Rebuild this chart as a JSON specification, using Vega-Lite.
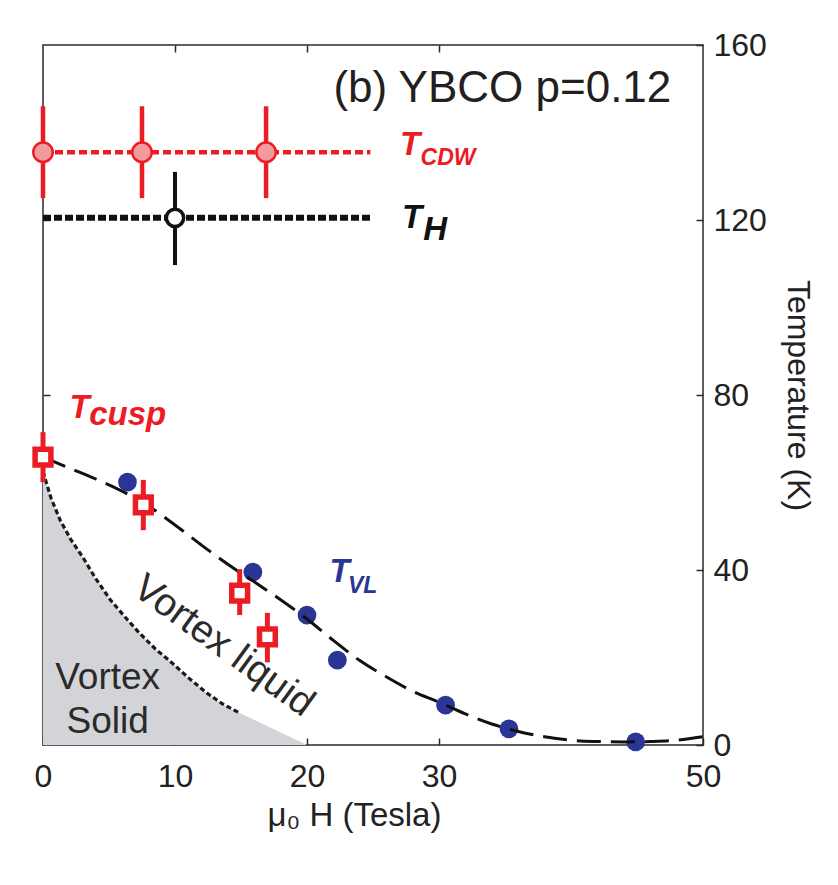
{
  "$schema": "https://vega.github.io/schema/vega-lite/v6.json",
  "width": 660,
  "height": 700,
  "autosize": {"type": "none"},
  "padding": {"left": 43, "top": 45, "right": 135, "bottom": 140},
  "background": "white",
  "config": {
    "font": "Liberation Sans",
    "view": {"stroke": "#2a2a2a", "strokeWidth": 1.5},
    "axis": {"domain": false, "grid": false, "tickColor": "#2a2a2a", "tickWidth": 1.5, "labelColor": "#222222", "titleColor": "#222222", "labelFont": "Liberation Sans", "titleFont": "Liberation Sans", "titleFontWeight": "normal", "labelFlush": false}
  },
  "datasets": {
    "solid": [
      {"H": 0, "T": 62.5}, {"H": 0.6, "T": 56.5}, {"H": 1.3, "T": 51.4}, {"H": 2.1, "T": 47}, {"H": 3, "T": 43},
      {"H": 4, "T": 38}, {"H": 5.1, "T": 33.2}, {"H": 6.2, "T": 29.3}, {"H": 7.3, "T": 25.6}, {"H": 8.5, "T": 22},
      {"H": 9.8, "T": 18.7}, {"H": 11, "T": 15.4}, {"H": 12.4, "T": 11.9}, {"H": 13.6, "T": 9.4}, {"H": 14.9, "T": 7.3},
      {"H": 20, "T": 0}
    ],
    "solidline": [
      {"H": 0, "T": 62.5}, {"H": 0.6, "T": 56.5}, {"H": 1.3, "T": 51.4}, {"H": 2.1, "T": 47}, {"H": 3, "T": 43},
      {"H": 4, "T": 38}, {"H": 5.1, "T": 33.2}, {"H": 6.2, "T": 29.3}, {"H": 7.3, "T": 25.6}, {"H": 8.5, "T": 22},
      {"H": 9.8, "T": 18.7}, {"H": 11, "T": 15.4}, {"H": 12.4, "T": 11.9}, {"H": 13.6, "T": 9.4}, {"H": 14.9, "T": 7.3}
    ],
    "vl": [
      {"H": 6.4, "T": 60.1}, {"H": 15.9, "T": 39.5}, {"H": 20, "T": 29.7}, {"H": 22.3, "T": 19.4},
      {"H": 30.5, "T": 9.1}, {"H": 35.3, "T": 3.7}, {"H": 44.9, "T": 0.7}
    ],
    "vlcurve": [
      {"H": 0, "T": 65.8}, {"H": 2, "T": 63.3}, {"H": 4, "T": 60.8}, {"H": 6, "T": 58}, {"H": 8, "T": 54.6},
      {"H": 10, "T": 50.3}, {"H": 12, "T": 45.7}, {"H": 14, "T": 41.3}, {"H": 16, "T": 37.3}, {"H": 18, "T": 33.2},
      {"H": 20, "T": 28.8}, {"H": 22, "T": 23.9}, {"H": 24, "T": 19.3}, {"H": 26, "T": 15.6}, {"H": 28, "T": 12.3},
      {"H": 30, "T": 9.8}, {"H": 32, "T": 7.1}, {"H": 34, "T": 4.8}, {"H": 36, "T": 3.1}, {"H": 38, "T": 1.9},
      {"H": 40, "T": 1.1}, {"H": 42, "T": 0.8}, {"H": 44, "T": 0.7}, {"H": 46, "T": 0.8}, {"H": 48, "T": 1.1},
      {"H": 50, "T": 1.9}
    ],
    "cdwline": [{"H": 0, "T": 135.5}, {"H": 24.8, "T": 135.5}],
    "thline": [{"H": 0, "T": 120.5}, {"H": 24.8, "T": 120.5}],
    "cdw": [
      {"H": 0, "T": 135.5, "lo": 125, "hi": 146},
      {"H": 7.5, "T": 135.5, "lo": 125, "hi": 146},
      {"H": 16.9, "T": 135.5, "lo": 125, "hi": 146}
    ],
    "th": [{"H": 10, "T": 120.5, "lo": 109.7, "hi": 131}],
    "cusp": [
      {"H": 0, "T": 65.8, "lo": 60.1, "hi": 71.5},
      {"H": 7.6, "T": 54.9, "lo": 49.1, "hi": 60.6},
      {"H": 14.9, "T": 34.7, "lo": 29.7, "hi": 40.2},
      {"H": 17, "T": 24.7, "lo": 18.9, "hi": 30.2}
    ],
    "bigT": [
      {"series": "CDW", "text": "T", "H": 27.05, "T": 134.9},
      {"series": "H", "text": "T", "H": 27.2, "T": 118.2},
      {"series": "cusp", "text": "T", "H": 2.0, "T": 74.7},
      {"series": "VL", "text": "T", "H": 21.7, "T": 37.3}
    ],
    "smallSub": [
      {"series": "CDW", "text": "CDW", "H": 28.6, "T": 132.6},
      {"series": "VL", "text": "VL", "H": 23.1, "T": 34.7}
    ],
    "bigSub": [
      {"series": "H", "text": "H", "H": 28.8, "T": 115.4},
      {"series": "cusp", "text": "cusp", "H": 3.5, "T": 73.1}
    ],
    "title": [{"text": "(b) YBCO p=0.12", "H": 47.6, "T": 150}],
    "region": [
      {"text": "Vortex", "H": 4.9, "T": 15.3},
      {"text": "Solid", "H": 4.9, "T": 5.3}
    ],
    "liquid": [{"text": "Vortex liquid", "H": 13.7, "T": 22.7}]
  },
  "layer": [
    {
      "data": {"name": "solid"},
      "mark": {"type": "area", "color": "#d2d4d7", "interpolate": "linear"},
      "encoding": {
        "x": {"field": "H", "type": "quantitative", "scale": {"domain": [0, 50], "nice": false, "zero": false},
          "axis": {"orient": "bottom", "values": [0, 10, 20, 30, 50], "tickSize": -7, "labelPadding": 23, "labelFontSize": 32, "title": "μ₀ H (Tesla)", "titleFontSize": 33, "titlePadding": 7, "titleX": 311}},
        "y": {"field": "T", "type": "quantitative", "scale": {"domain": [0, 160], "nice": false, "zero": false},
          "axis": {"orient": "right", "values": [0, 40, 80, 120, 160], "tickSize": -7, "labelPadding": 17, "labelFontSize": 32, "title": "Temperature (K)", "titleFontSize": 32, "titlePadding": 14}}
      }
    },
    {
      "data": {"name": "solidline"},
      "mark": {"type": "line", "color": "#1a1a1a", "strokeWidth": 3.2, "strokeDash": [5, 3]},
      "encoding": {
        "x": {"field": "H", "type": "quantitative", "scale": {"domain": [0, 50], "nice": false, "zero": false},
          "axis": {"orient": "top", "values": [10, 20, 30], "tickSize": -7, "labels": false, "title": null}},
        "y": {"field": "T", "type": "quantitative", "scale": {"domain": [0, 160], "nice": false, "zero": false},
          "axis": {"orient": "left", "values": [40, 80, 120], "tickSize": -7, "labels": false, "title": null}}
      }
    },
    {
      "data": {"name": "vl"},
      "mark": {"type": "circle", "size": 350, "color": "#2b3596", "opacity": 1},
      "encoding": {
        "x": {"field": "H", "type": "quantitative", "axis": null},
        "y": {"field": "T", "type": "quantitative", "axis": null}
      }
    },
    {
      "data": {"name": "vlcurve"},
      "mark": {"type": "line", "color": "#111111", "strokeWidth": 3, "strokeDash": [24, 10], "interpolate": "monotone"},
      "encoding": {
        "x": {"field": "H", "type": "quantitative", "axis": null},
        "y": {"field": "T", "type": "quantitative", "axis": null}
      }
    },
    {
      "data": {"name": "cdwline"},
      "mark": {"type": "line", "color": "#ec1c24", "strokeWidth": 4.5, "strokeDash": [8, 4]},
      "encoding": {
        "x": {"field": "H", "type": "quantitative", "axis": null},
        "y": {"field": "T", "type": "quantitative", "axis": null}
      }
    },
    {
      "data": {"name": "thline"},
      "mark": {"type": "line", "color": "#111111", "strokeWidth": 6, "strokeDash": [8, 3]},
      "encoding": {
        "x": {"field": "H", "type": "quantitative", "axis": null},
        "y": {"field": "T", "type": "quantitative", "axis": null}
      }
    },
    {
      "data": {"name": "cdw"},
      "mark": {"type": "rule", "color": "#ec1c24", "strokeWidth": 4.5},
      "encoding": {
        "x": {"field": "H", "type": "quantitative", "axis": null},
        "y": {"field": "lo", "type": "quantitative", "axis": null},
        "y2": {"field": "hi"}
      }
    },
    {
      "data": {"name": "th"},
      "mark": {"type": "rule", "color": "#111111", "strokeWidth": 4},
      "encoding": {
        "x": {"field": "H", "type": "quantitative", "axis": null},
        "y": {"field": "lo", "type": "quantitative", "axis": null},
        "y2": {"field": "hi"}
      }
    },
    {
      "data": {"name": "cusp"},
      "mark": {"type": "rule", "color": "#ec1c24", "strokeWidth": 5},
      "encoding": {
        "x": {"field": "H", "type": "quantitative", "axis": null},
        "y": {"field": "lo", "type": "quantitative", "axis": null},
        "y2": {"field": "hi"}
      }
    },
    {
      "data": {"name": "cdw"},
      "mark": {"type": "point", "shape": "circle", "size": 380, "filled": true, "fill": "#f29a9c", "stroke": "#ec1c24", "strokeWidth": 2.5, "opacity": 1},
      "encoding": {
        "x": {"field": "H", "type": "quantitative", "axis": null},
        "y": {"field": "T", "type": "quantitative", "axis": null}
      }
    },
    {
      "data": {"name": "th"},
      "mark": {"type": "point", "shape": "circle", "size": 300, "filled": true, "fill": "white", "stroke": "#111111", "strokeWidth": 3.5, "opacity": 1},
      "encoding": {
        "x": {"field": "H", "type": "quantitative", "axis": null},
        "y": {"field": "T", "type": "quantitative", "axis": null}
      }
    },
    {
      "data": {"name": "cusp"},
      "mark": {"type": "point", "shape": "square", "size": 250, "filled": true, "fill": "white", "stroke": "#ec1c24", "strokeWidth": 5.5, "opacity": 1},
      "encoding": {
        "x": {"field": "H", "type": "quantitative", "axis": null},
        "y": {"field": "T", "type": "quantitative", "axis": null}
      }
    },
    {
      "data": {"name": "bigT"},
      "mark": {"type": "text", "fontSize": 33, "fontWeight": "bold", "fontStyle": "italic", "align": "left", "baseline": "alphabetic"},
      "encoding": {
        "x": {"field": "H", "type": "quantitative", "axis": null},
        "y": {"field": "T", "type": "quantitative", "axis": null},
        "text": {"field": "text"},
        "color": {"field": "series", "type": "nominal", "legend": null, "scale": {"domain": ["CDW", "H", "cusp", "VL"], "range": ["#ec1c24", "#111111", "#ec1c24", "#2b3596"]}}
      }
    },
    {
      "data": {"name": "smallSub"},
      "mark": {"type": "text", "fontSize": 23, "fontWeight": "bold", "fontStyle": "italic", "align": "left", "baseline": "alphabetic"},
      "encoding": {
        "x": {"field": "H", "type": "quantitative", "axis": null},
        "y": {"field": "T", "type": "quantitative", "axis": null},
        "text": {"field": "text"},
        "color": {"field": "series", "type": "nominal", "legend": null, "scale": {"domain": ["CDW", "H", "cusp", "VL"], "range": ["#ec1c24", "#111111", "#ec1c24", "#2b3596"]}}
      }
    },
    {
      "data": {"name": "bigSub"},
      "mark": {"type": "text", "fontSize": 33, "fontWeight": "bold", "fontStyle": "italic", "align": "left", "baseline": "alphabetic"},
      "encoding": {
        "x": {"field": "H", "type": "quantitative", "axis": null},
        "y": {"field": "T", "type": "quantitative", "axis": null},
        "text": {"field": "text"},
        "color": {"field": "series", "type": "nominal", "legend": null, "scale": {"domain": ["CDW", "H", "cusp", "VL"], "range": ["#ec1c24", "#111111", "#ec1c24", "#2b3596"]}}
      }
    },
    {
      "data": {"name": "title"},
      "mark": {"type": "text", "fontSize": 44, "align": "right", "baseline": "middle", "color": "#231f20"},
      "encoding": {
        "x": {"field": "H", "type": "quantitative", "axis": null},
        "y": {"field": "T", "type": "quantitative", "axis": null},
        "text": {"field": "text"}
      }
    },
    {
      "data": {"name": "region"},
      "mark": {"type": "text", "fontSize": 37, "align": "center", "baseline": "middle", "color": "#2a2a2a"},
      "encoding": {
        "x": {"field": "H", "type": "quantitative", "axis": null},
        "y": {"field": "T", "type": "quantitative", "axis": null},
        "text": {"field": "text"}
      }
    },
    {
      "data": {"name": "liquid"},
      "mark": {"type": "text", "fontSize": 39, "align": "center", "baseline": "middle", "angle": 36, "color": "#2a2a2a"},
      "encoding": {
        "x": {"field": "H", "type": "quantitative", "axis": null},
        "y": {"field": "T", "type": "quantitative", "axis": null},
        "text": {"field": "text"}
      }
    }
  ],
  "resolve": {"axis": {"x": "independent", "y": "independent"}}
}
